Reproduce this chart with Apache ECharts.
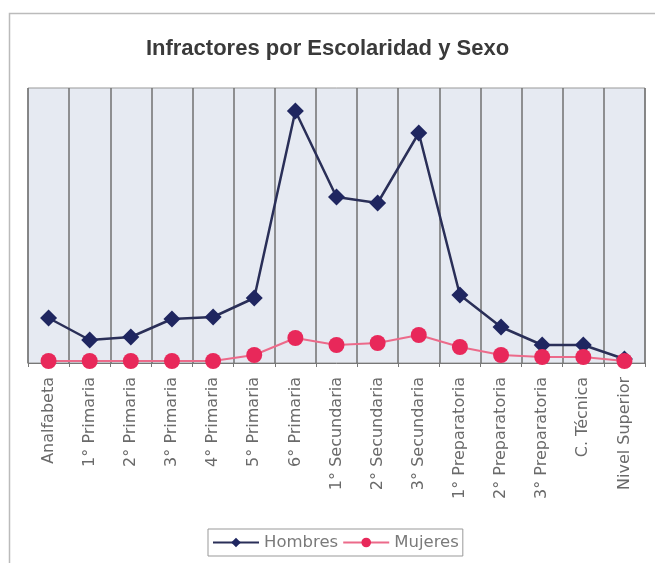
<!DOCTYPE html>
<html>
<head>
<meta charset="utf-8">
<script src="https://cdn.jsdelivr.net/npm/echarts@6/dist/echarts.min.js"></script>
<style>
  html, body { margin: 0; padding: 0; background: #fff; }
  #chart { width: 655px; height: 563px; }
</style>
</head>
<body>
<div id="chart"></div>
<script>
// categorias de escolaridad
const categorias = ["Analfabeta", "1° Primaria", "2° Primaria", "3° Primaria", "4° Primaria",
  "5° Primaria", "6° Primaria", "1° Secundaria", "2° Secundaria", "3° Secundaria",
  "1° Preparatoria", "2° Preparatoria", "3° Preparatoria", "C. Técnica", "Nivel Superior"];
// valores (sin eje de valores visible)
const hombres = [45, 23, 26, 44, 46, 65, 252, 166, 160, 230, 68, 36, 18, 18, 4];
const mujeres = [2, 2, 2, 2, 2, 8, 25, 18, 20, 28, 16, 8, 6, 6, 2];

const chart = echarts.init(document.getElementById("chart"));
const font = "'Liberation Sans', Arial, sans-serif";
const fontAncho = "'DejaVu Sans', sans-serif";

chart.setOption({
  animation: false,
  textStyle: { fontFamily: font },
  title: {
    text: "Infractores por Escolaridad y Sexo",
    left: "center",
    top: 33,
    textStyle: { fontSize: 22, fontWeight: "bold", color: "#3a3a3a", fontFamily: font }
  },
  graphic: [{
    type: "rect",
    shape: { x: 9.5, y: 13.5, width: 660, height: 560 },
    style: { fill: "none", stroke: "#bbb", lineWidth: 1.5 },
    silent: true
  }],
  grid: {
    left: 28, right: 10, top: 88, bottom: 200,
    show: true,
    backgroundColor: "#e6eaf2",
    borderColor: "#999",
    borderWidth: 1
  },
  legend: {
    bottom: 7,
    left: 208,
    itemWidth: 46,
    itemHeight: 12,
    itemGap: 4,
    padding: [5, 4],
    borderColor: "#999",
    borderWidth: 1,
    textStyle: { color: "#7a7a7a", fontSize: 16.5, fontFamily: fontAncho },
    data: ["Hombres", "Mujeres"]
  },
  xAxis: {
    type: "category",
    data: categorias,
    boundaryGap: true,
    axisLine: { lineStyle: { color: "#777", width: 1 } },
    axisTick: { show: true, length: 4, lineStyle: { color: "#777" } },
    splitLine: { show: true, lineStyle: { color: "#707070", width: 1.5 } },
    axisLabel: {
      rotate: 90,
      interval: 0,
      color: "#6a6a6a",
      fontSize: 16,
      margin: 14,
      fontFamily: fontAncho
    }
  },
  yAxis: {
    type: "value",
    min: 0,
    max: 275,
    show: false,
    splitLine: { show: false }
  },
  series: [
    {
      name: "Hombres",
      type: "line",
      data: hombres,
      symbol: "diamond",
      symbolSize: 17,
      itemStyle: { color: "#1f2660" },
      lineStyle: { color: "#2a2f58", width: 2.5 },
      z: 3
    },
    {
      name: "Mujeres",
      type: "line",
      data: mujeres,
      symbol: "circle",
      symbolSize: 16,
      itemStyle: { color: "#e8285a" },
      lineStyle: { color: "#ec6a8a", width: 2 },
      z: 4
    }
  ]
});
</script>
</body>
</html>
